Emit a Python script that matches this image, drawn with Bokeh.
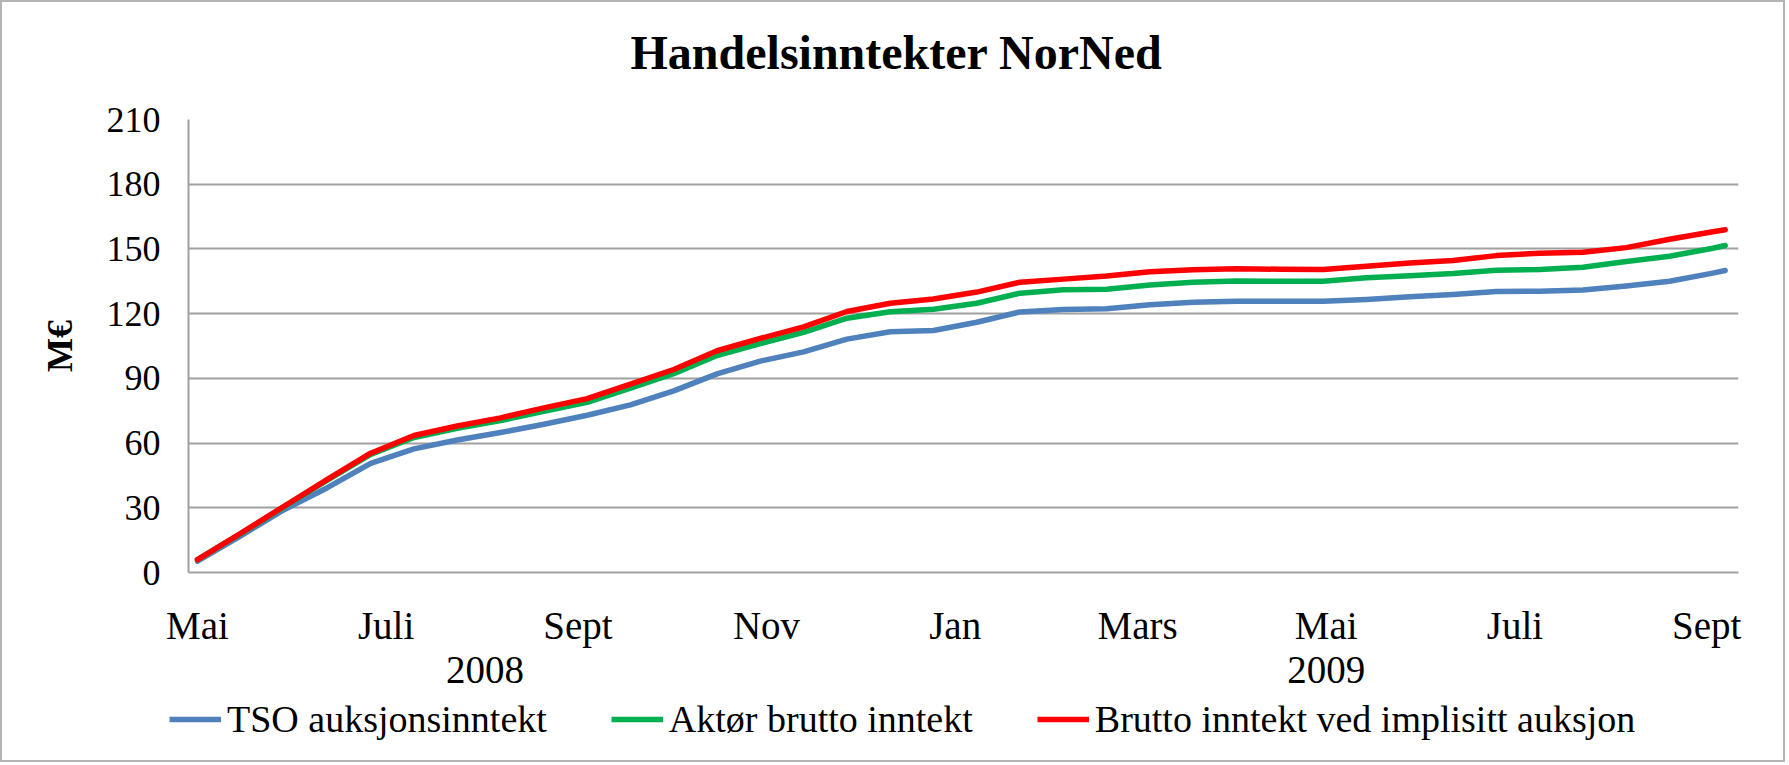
import pandas as pd
from bokeh.plotting import figure
from bokeh.layouts import column
from bokeh.models import (Range1d, FixedTicker, LinearAxis, Legend, LegendItem, Label)
from bokeh.embed import file_html
from bokeh.resources import INLINE

# ---- data ----
dates = ["2008-05-01", "2008-05-15", "2008-05-29", "2008-06-12", "2008-06-26",
         "2008-07-10", "2008-07-24", "2008-08-07", "2008-08-21", "2008-09-04",
         "2008-09-18", "2008-10-02", "2008-10-16", "2008-10-30", "2008-11-13",
         "2008-11-27", "2008-12-11", "2008-12-25", "2009-01-08", "2009-01-22",
         "2009-02-05", "2009-02-19", "2009-03-05", "2009-03-19", "2009-04-02",
         "2009-04-16", "2009-04-30", "2009-05-14", "2009-05-28", "2009-06-11",
         "2009-06-25", "2009-07-09", "2009-07-23", "2009-08-06", "2009-08-20",
         "2009-09-03", "2009-09-07"]

tso = [5.3, 17.0, 29.1, 39.3, 50.6, 57.3, 61.4, 64.9, 68.7, 72.9,
       77.7, 84.2, 92.1, 98.0, 102.3, 108.2, 111.6, 112.2, 116.0, 120.8,
       121.9, 122.3, 124.1, 125.3, 125.8, 125.7, 125.7, 126.6, 127.8, 128.9,
       130.3, 130.4, 131.0, 132.8, 135.0, 138.8, 140.0]

aktor = [6.0, 18.0, 30.4, 42.8, 54.7, 62.6, 66.8, 70.4, 74.7, 78.9,
         85.5, 92.2, 100.6, 106.1, 111.3, 117.9, 120.9, 122.0, 124.8, 129.5,
         131.1, 131.3, 133.3, 134.6, 135.1, 135.0, 135.0, 136.6, 137.6, 138.6,
         140.1, 140.5, 141.5, 144.2, 146.6, 150.3, 151.6]

brutto = [6.0, 18.2, 30.7, 43.2, 55.3, 63.5, 67.9, 71.7, 76.3, 80.6,
          87.3, 94.1, 102.8, 108.5, 113.9, 121.0, 124.8, 126.8, 130.0, 134.6,
          136.0, 137.4, 139.4, 140.3, 140.8, 140.6, 140.5, 142.0, 143.5, 144.6,
          146.9, 148.0, 148.5, 150.6, 154.5, 158.0, 158.9]

series_names = ["TSO auksjonsinntekt", "Aktør brutto inntekt",
                "Brutto inntekt ved implisitt auksjon"]

month_ticks = ["2008-05-01", "2008-07-01", "2008-09-01", "2008-11-01",
               "2009-01-01", "2009-03-01", "2009-05-01", "2009-07-01",
               "2009-09-01"]
month_labels = ["Mai", "Juli", "Sept", "Nov", "Jan", "Mars", "Mai", "Juli", "Sept"]
year_ticks = ["2008-08-02", "2009-05-01"]
year_labels = ["2008", "2009"]
y_ticks = [0, 30, 60, 90, 120, 150, 180, 210]
title_text = "Handelsinntekter NorNed"

ORIGIN = pd.Timestamp("2008-05-01")


def days(lst):
    return [(pd.Timestamp(d) - ORIGIN).days for d in lst]


x = days(dates)
FONT = "Liberation Serif"
GRID = "#a0a0a0"
colors = ["#4f81bd", "#00b050", "#ff0000"]
W = 1781


def no_align(fig):
    try:
        fig.frame_align = False
    except Exception:
        pass


def plain(fig):
    fig.axis.visible = False
    fig.grid.grid_line_color = None
    fig.outline_line_color = None
    fig.background_fill_color = "white"
    fig.border_fill_color = "white"


# ---- header with the title ----
hf = figure(width=W, height=80, output_backend="svg", toolbar_location=None,
            x_range=Range1d(0, 1), y_range=Range1d(0, 1), min_border=0,
            title_location=None)
plain(hf)
no_align(hf)
hf.add_layout(Label(x=894, y=30, x_units="screen", y_units="screen",
                    text=title_text, text_font=FONT, text_font_style="bold",
                    text_font_size="48px", text_align="center",
                    text_baseline="alphabetic", text_color="black"))

# ---- main chart ----
p = figure(width=W, height=614, output_backend="svg", toolbar_location=None,
           x_range=Range1d(-2.9, 498.3), y_range=Range1d(0, 210),
           min_border_left=186, min_border_right=45, min_border_top=37,
           min_border_bottom=124, title_location=None)
no_align(p)
p.background_fill_color = "white"
p.border_fill_color = "white"
p.outline_line_color = None

yax = p.yaxis[0]
yax.ticker = FixedTicker(ticks=y_ticks)
yax.major_label_text_font = FONT
yax.major_label_text_font_size = "36px"
yax.major_label_text_color = "black"
yax.major_tick_in = 0
yax.major_tick_out = 0
yax.minor_tick_line_color = None
yax.axis_line_color = GRID
yax.axis_line_width = 2
yax.major_label_standoff = 28
yax.axis_label = "M€"
yax.axis_label_text_font = FONT
yax.axis_label_text_font_style = "bold"
yax.axis_label_text_font_size = "36px"
yax.axis_label_text_color = "black"
yax.axis_label_standoff = 24

xax = p.xaxis[0]
mt = days(month_ticks)
xax.ticker = FixedTicker(ticks=mt)
xax.major_label_overrides = {t: l for t, l in zip(mt, month_labels)}
xax.major_label_text_font = FONT
xax.major_label_text_font_size = "39px"
xax.major_label_text_color = "black"
xax.major_tick_in = 0
xax.major_tick_out = 0
xax.minor_tick_line_color = None
xax.axis_line_color = GRID
xax.axis_line_width = 2
xax.major_label_standoff = 31

yt = days(year_ticks)
year_axis = LinearAxis(ticker=FixedTicker(ticks=yt),
                       major_label_overrides={t: l for t, l in zip(yt, year_labels)})
year_axis.major_label_text_font = FONT
year_axis.major_label_text_font_size = "39px"
year_axis.major_label_text_color = "black"
year_axis.major_tick_in = 0
year_axis.major_tick_out = 0
year_axis.minor_tick_line_color = None
year_axis.axis_line_color = None
year_axis.major_label_standoff = 7
p.add_layout(year_axis, "below")

p.xgrid.grid_line_color = None
p.ygrid.ticker = FixedTicker(ticks=y_ticks)
p.ygrid.grid_line_color = GRID
p.ygrid.grid_line_width = 2

for vals, c in zip([tso, aktor, brutto], colors):
    p.line(x, vals, line_color=c, line_width=5.5, line_join="round",
           line_cap="round")

# ---- legend strip ----
lf = figure(width=W, height=64, output_backend="svg", toolbar_location=None,
            x_range=Range1d(0, 1), y_range=Range1d(0, 1), min_border=0,
            title_location=None)
plain(lf)
no_align(lf)
lrs = [lf.line([-5, -4], [-5, -4], line_color=c, line_width=5.5) for c in colors]

legend = Legend(items=[LegendItem(label=n, renderers=[r]) for n, r in zip(series_names, lrs)],
                orientation="horizontal", location=(167, 19))
legend.label_text_font = FONT
legend.label_text_font_size = "38px"
legend.label_text_color = "black"
legend.glyph_width = 52
legend.glyph_height = 30
legend.label_standoff = 6
legend.spacing = 64
legend.padding = 0
legend.margin = 0
legend.border_line_color = None
legend.background_fill_alpha = 0
lf.add_layout(legend)

layout = column(hf, p, lf, spacing=0)
layout.styles = {"border": "2px solid #b4b4b4"}

open("out.html", "w").write(file_html(layout, INLINE))
